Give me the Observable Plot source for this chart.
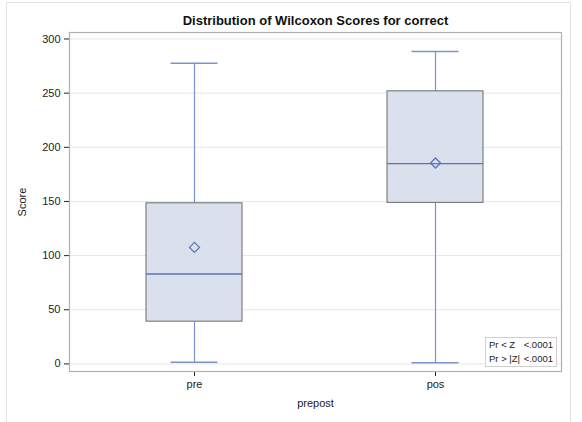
<!DOCTYPE html>
<html>
<head>
<meta charset="utf-8">
<script src="https://cdn.jsdelivr.net/npm/d3@7"></script>
<script src="https://cdn.jsdelivr.net/npm/@observablehq/plot@0.6"></script>
<style>
  body { margin: 0; background: #fff; font-family: "Liberation Sans", Arial, sans-serif; }
  #wrap { position: relative; width: 582px; height: 422px; overflow: hidden; }
  #border { position: absolute; left: 6px; top: 2px; width: 563px; height: 440px; border: 1px solid #e2e2e2; }
  #stats { position: absolute; left: 485px; top: 337px; width: 70px; height: 28px; border: 1px solid #cfcfcf;
           background: #fff; font-size: 9.5px; color: #222; line-height: 14px; }
  #stats div { position: relative; height: 14px; }
  #stats span { position: absolute; top: 0; }
</style>
</head>
<body>
<div id="wrap">
  <div id="border"></div>
  <div id="chart"></div>
  <div id="stats"></div>
</div>
<script>
// values
const groups = ["pre", "pos"];
const whiskerLow = [1.5, 1];
const q1 = [39, 148.7];
const median = [83, 185];
const q3 = [148.3, 251.7];
const whiskerHigh = [277.5, 288.4];
const mean = [107.6, 185.5];
const yTicks = [0, 50, 100, 150, 200, 250, 300];
const statLabels = ["Pr < Z", "Pr > |Z|"];
const statValues = ["<.0001", "<.0001"];

const boxes = groups.map((g, i) => ({
  group: g, lo: whiskerLow[i], q1: q1[i], med: median[i], q3: q3[i], hi: whiskerHigh[i], mean: mean[i]
}));

const boxFill = "#dae1ec";
const boxStroke = "#6b6b6b";
const blue = "#5a74bb";
const whisk = "#7d93cb";

let chart = Plot.plot({
  width: 582,
  height: 422,
  marginLeft: 69,
  marginRight: 21,
  marginTop: 32,
  marginBottom: 51,
  style: {
    fontFamily: "Liberation Sans, Arial, sans-serif",
    fontSize: "11px",
    color: "#222",
    background: "transparent"
  },
  x: {
    domain: groups,
    paddingInner: 0.6,
    paddingOuter: 0.32,
    label: null,
    tickSize: 5
  },
  y: {
    domain: [-7, 306],
    ticks: yTicks,
    label: null,
    tickSize: 5
  },
  marks: [
    Plot.gridY(yTicks, {stroke: "#e6e6e6", strokeOpacity: 1}),
    Plot.ruleX(boxes, {x: "group", y1: "q3", y2: "hi", stroke: whisk, strokeWidth: 1.2}),
    Plot.ruleX(boxes, {x: "group", y1: "lo", y2: "q1", stroke: whisk, strokeWidth: 1.2}),
    Plot.tickY(boxes, {x: "group", y: "hi", stroke: whisk, strokeWidth: 1.5, insetLeft: 24.5, insetRight: 24.5}),
    Plot.tickY(boxes, {x: "group", y: "lo", stroke: whisk, strokeWidth: 1.5, insetLeft: 24.5, insetRight: 24.5}),
    Plot.barY(boxes, {x: "group", y1: "q1", y2: "q3", fill: boxFill, stroke: boxStroke, strokeWidth: 1}),
    Plot.tickY(boxes, {x: "group", y: "med", stroke: blue, strokeWidth: 1.3}),
    Plot.dot(boxes, {x: "group", y: "mean", symbol: "diamond2", r: 4.5, stroke: blue, strokeWidth: 1.3, fill: "none"}),
    Plot.frame({stroke: "#b0b0b0", strokeWidth: 1.2}),
    Plot.text(["Distribution of Wilcoxon Scores for correct"], {
      frameAnchor: "top", dy: -17, fontWeight: "bold", fontSize: 13, fill: "#111"
    }),
    Plot.text(["Score"], {frameAnchor: "left", textAnchor: "middle", dx: -47, rotate: -90, fontSize: 11, fill: "#222"}),
    Plot.text(["prepost"], {frameAnchor: "bottom", dy: 35, fontSize: 11, fill: "#222"})
  ]
});
d3.select("#chart").append(() => chart);

const stats = d3.select("#stats");
statLabels.forEach((s, i) => {
  const row = stats.append("div");
  row.append("span").style("left", "3px").text(s);
  row.append("span").style("right", "3px").text(statValues[i]);
});
</script>
</body>
</html>
